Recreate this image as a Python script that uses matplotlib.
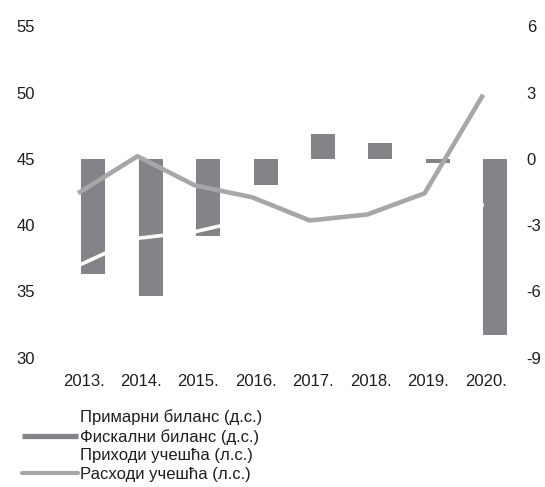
import matplotlib
matplotlib.use("Agg")
import matplotlib.pyplot as plt
import numpy as np
from matplotlib.lines import Line2D
from matplotlib.patches import Patch
from matplotlib.transforms import ScaledTranslation

plt.rcParams['font.family'] = ['Liberation Sans', 'DejaVu Sans']
plt.rcParams['axes.unicode_minus'] = False

years = ["2013.", "2014.", "2015.", "2016.", "2017.", "2018.", "2019.", "2020."]

# Balances, % of GDP (right scale)
primary_balance = [-3.1, -3.7, -0.6, 1.8, 3.9, 2.8, 2.0, -6.0]
fiscal_balance = [-5.2, -6.2, -3.5, -1.2, 1.15, 0.7, -0.2, -8.0]

# Revenue and expenditure shares, % of GDP (left scale)
revenue_share = [37.0, 39.0, 39.5, 40.5, 41.3, 41.0, 41.5, 41.5]
expenditure_share = [42.5, 45.2, 43.0, 42.1, 40.35, 40.8, 42.4, 49.7]

labels = ["Примарни биланс (д.с.)", "Фискални биланс (д.с.)",
          "Приходи учешћа (л.с.)", "Расходи учешћа (л.с.)"]

bar_color = "#838388"
line_color = "#a7a7a9"
text_color = "#1e1e1e"

fig = plt.figure(figsize=(5.45, 4.87), dpi=100)
ax = fig.add_axes([0.0941, 0.2659, 0.843, 0.6797])
ax_r = ax.twinx()

x = np.arange(len(years))
w = 0.418

# Bars on the right-hand scale
ax_r.bar(x - 0.19, primary_balance, width=w, color="white", linewidth=0, zorder=2)
ax_r.bar(x + 0.232, fiscal_balance, width=w, color=bar_color, linewidth=0, zorder=2)
ax_r.set_ylim(-9, 6)
ax_r.set_yticks(np.arange(-9, 7, 3))

# Lines on the left-hand scale, drawn above the bars
ax.plot(x, revenue_share, color="white", lw=2.6, zorder=3)
ax.plot(x, expenditure_share, color=line_color, lw=3.3, zorder=4)
ax.set_ylim(30, 55)
ax.set_yticks(np.arange(30, 56, 5))
ax.set_xlim(-0.5, len(years) - 0.5)
ax.set_xticks(x)
ax.set_xticklabels(years)

ax.set_zorder(ax_r.get_zorder() + 1)
ax.patch.set_visible(False)

for a in (ax, ax_r):
    for s in a.spines.values():
        s.set_visible(False)

ax.tick_params(axis="y", length=0, pad=11.5, labelsize=12, labelcolor=text_color)
ax.tick_params(axis="x", length=0, pad=12, labelsize=12, labelcolor=text_color)
ax_r.tick_params(axis="y", length=0, pad=11.5, labelsize=12, labelcolor=text_color)

shift = ScaledTranslation(3.5 / 100, 0, fig.dpi_scale_trans)
for lab in ax.get_xticklabels():
    lab.set_transform(lab.get_transform() + shift)

handles = [
    Patch(facecolor="white", edgecolor="none"),
    Line2D([], [], color=bar_color, lw=3.8, solid_capstyle="butt"),
    Line2D([], [], color="white", lw=2.6),
    Line2D([], [], color=line_color, lw=3.0, solid_capstyle="round"),
]
leg = fig.legend(handles, labels, loc="upper left", bbox_to_anchor=(0.0404, 0.160),
                 frameon=False, fontsize=12, handlelength=3.35, handletextpad=0.15,
                 labelspacing=0.23, borderpad=0, borderaxespad=0)
for t in leg.get_texts():
    t.set_color(text_color)

fig.savefig("out.png", dpi=100, facecolor="white")
